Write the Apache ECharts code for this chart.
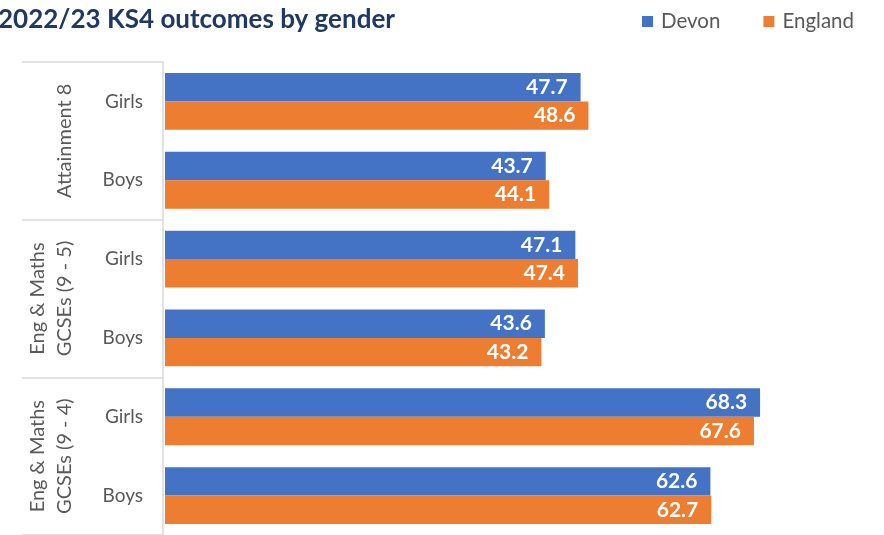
<!DOCTYPE html>
<html>
<head>
<meta charset="utf-8">
<script src="https://cdn.jsdelivr.net/npm/echarts@6/dist/echarts.min.js"></script>
<style>
  html, body { margin: 0; padding: 0; background: #fff; }
  #main { width: 884px; height: 535px; }
</style>
</head>
<body>
<div id="main"></div>
<script>
// Measures grouped on the y axis, each split by gender
const groups = ["Attainment 8", "Eng & Maths\nGCSEs (9 - 5)", "Eng & Maths\nGCSEs (9 - 4)"];
const genders = ["Girls", "Boys", "Girls", "Boys", "Girls", "Boys"];
const devon = [47.7, 43.7, 47.1, 43.6, 68.3, 62.6];
const england = [48.6, 44.1, 47.4, 43.2, 67.6, 62.7];

const font = "Lato";
const grey = "#595959";
const lineGrey = "#D9D9D9";

const chart = echarts.init(document.getElementById("main"));

const barLabel = {
  show: true,
  position: "insideRight",
  distance: 13,
  color: "#fff",
  fontFamily: font,
  fontWeight: "bold",
  fontSize: 21,
  formatter: (p) => p.value.toFixed(1),
};

chart.setOption({
  animation: false,
  title: {
    text: "2022/23 KS4 outcomes by gender",
    left: -7,
    top: 2,
    textStyle: { fontFamily: font, fontWeight: "bold", fontSize: 26, color: "#203864" },
  },
  legend: {
    data: ["Devon", "England"],
    left: 637,
    top: 6,
    icon: "rect",
    itemWidth: 11,
    itemHeight: 11,
    itemGap: 43,
    textStyle: { fontFamily: font, fontSize: 20.5, color: grey, padding: [0, 0, 0, 3] },
  },
  grid: { left: 165, top: 62, right: 22, bottom: -4 },
  xAxis: { type: "value", min: 0, max: 80, show: false },
  yAxis: [
    {
      type: "category",
      data: genders,
      inverse: true,
      axisLine: { show: false },
      axisTick: { show: false },
      axisLabel: { margin: 22, fontFamily: font, fontSize: 19, color: grey },
    },
    {
      type: "category",
      data: groups,
      inverse: true,
      position: "left",
      offset: 2,
      axisLine: { show: true, lineStyle: { color: lineGrey, width: 1.5 } },
      axisTick: { show: true, length: 141, interval: 0, lineStyle: { color: lineGrey, width: 1.5 } },
      axisLabel: { rotate: 90, margin: 85, interval: 0, fontFamily: font, fontSize: 20, color: grey, lineHeight: 27 },
    },
  ],
  series: [
    {
      name: "Devon",
      type: "bar",
      data: devon,
      barGap: "0%",
      barCategoryGap: "28%",
      itemStyle: { color: "#4472C4" },
      label: barLabel,
    },
    {
      name: "England",
      type: "bar",
      data: england,
      itemStyle: { color: "#ED7D31" },
      label: barLabel,
    },
  ],
});
</script>
</body>
</html>
